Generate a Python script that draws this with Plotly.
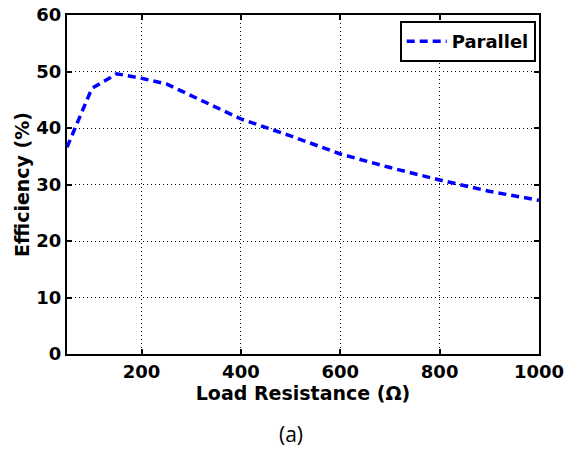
import plotly.graph_objects as go

load_resistance = [50, 100, 150, 200, 250, 300, 400, 500, 600, 700, 800, 900, 1000]
efficiency = [36.6, 47.0, 49.6, 48.8, 47.8, 45.7, 41.6, 38.6, 35.4, 33.0, 30.8, 28.8, 27.2]
x_ticks = [200, 400, 600, 800, 1000]
y_ticks = [0, 10, 20, 30, 40, 50, 60]

fig = go.Figure()
fig.add_trace(go.Scatter(
    x=load_resistance, y=efficiency, mode="lines", name="<b>Parallel</b>",
    line=dict(color="#0000ff", width=3.5, dash="8px,5px"),
))

tick_font = dict(family="DejaVu Sans, sans-serif", size=18, color="black")
title_font = dict(family="DejaVu Sans, sans-serif", size=19, color="black")
common = dict(
    showline=True, linecolor="black", linewidth=2, mirror="ticks",
    ticks="inside", ticklen=5, tickwidth=2, tickcolor="black",
    showgrid=True, gridcolor="black", griddash="1px,3px", gridwidth=1,
    zeroline=False, tickfont=tick_font, automargin=False,
)
fig.update_xaxes(range=[50, 1000], tickvals=x_ticks,
                 ticktext=[f"<b>{v}</b>" for v in x_ticks], **common,
                 title=dict(text="<b>Load Resistance (Ω)</b>", font=title_font, standoff=0))
fig.update_yaxes(range=[0, 60], tickvals=y_ticks,
                 ticktext=[f"<b>{v}</b>" for v in y_ticks], **common,
                 title=dict(text="<b>Efficiency (%)</b>", font=title_font, standoff=2))

fig.add_annotation(text="(a)", xref="paper", yref="paper", x=0.475, y=-0.235,
                   showarrow=False, yanchor="middle",
                   font=dict(family="Open Sans, Noto Sans, sans-serif", size=21, color="black"))

fig.update_layout(
    width=567, height=449,
    margin=dict(l=67, r=28, t=15, b=95),
    plot_bgcolor="white", paper_bgcolor="white",
    showlegend=True,
    legend=dict(x=0.993, y=0.982, xanchor="right", yanchor="top",
                bordercolor="black", borderwidth=2, bgcolor="white",
                font=dict(family="DejaVu Sans, sans-serif", size=18, color="black"),
                itemwidth=40, tracegroupgap=0),
)
fig.write_html("out.html")
